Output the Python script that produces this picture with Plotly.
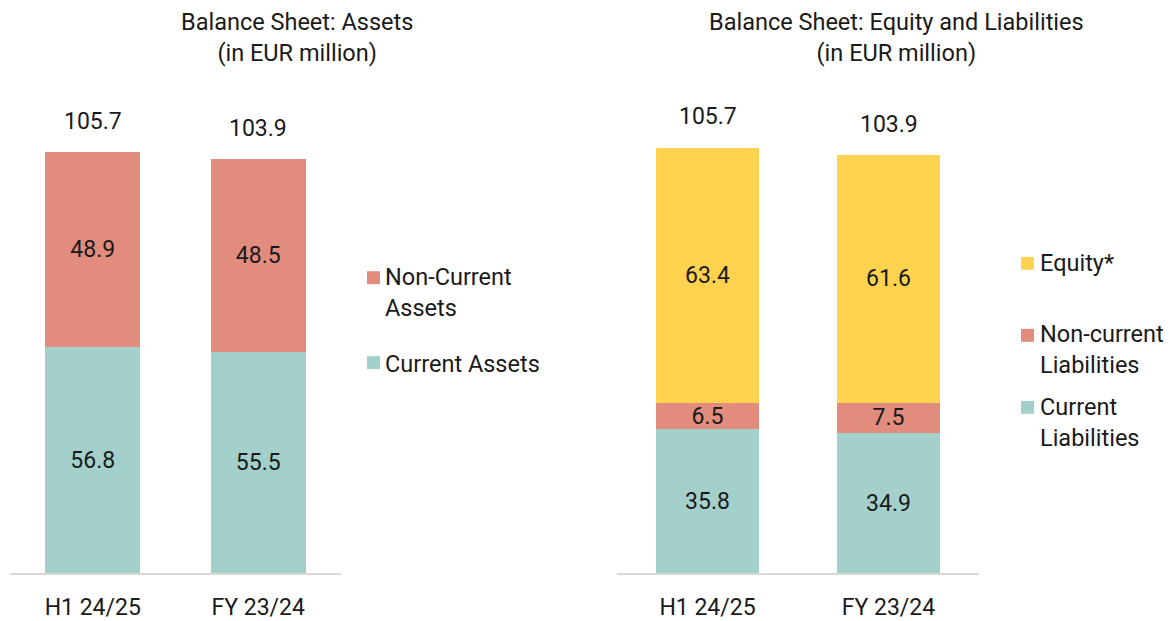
import plotly.graph_objects as go

# ---------------- data ----------------
categories = ["H1 24/25", "FY 23/24"]

current_assets = [56.8, 55.5]
non_current_assets = [48.9, 48.5]
total_assets = [105.7, 103.9]

current_liabilities = [35.8, 34.9]
non_current_liabilities = [6.5, 7.5]
equity = [63.4, 61.6]
total_equity_liabilities = [105.7, 103.9]

asset_labels = ["Non-Current<br>Assets", "Current Assets"]
liability_labels = ["Equity*", "Non-current<br>Liabilities", "Current<br>Liabilities"]

title_assets = "Balance Sheet: Assets<br>(in EUR million)"
title_liabilities = "Balance Sheet: Equity and Liabilities<br>(in EUR million)"

# ---------------- style ----------------
W, H = 1174, 621
TEAL = "#A3D0CB"
SALMON = "#E28C7E"
YELLOW = "#FFD250"
TXT = "#1a1a1a"
FONT = "Roboto"
FS = 23
FS_T = 23.5


def px_x(p):
    return p / W


def px_y(p):
    return 1 - p / H


fig = go.Figure()


def add_bar(vals, color, xa, ya):
    fig.add_trace(go.Bar(
        x=categories, y=vals, marker=dict(color=color, line=dict(width=0)),
        texttemplate="%{y:.1f}", textposition="inside", insidetextanchor="middle",
        textangle=0, textfont=dict(size=FS, color=TXT, family=FONT),
        xaxis=xa, yaxis=ya, showlegend=False, hoverinfo="skip",
    ))


add_bar(current_assets, TEAL, "x", "y")
add_bar(non_current_assets, SALMON, "x", "y")
add_bar(current_liabilities, TEAL, "x2", "y2")
add_bar(non_current_liabilities, SALMON, "x2", "y2")
add_bar(equity, YELLOW, "x2", "y2")

annotations = []
for cat, tot in zip(categories, total_assets):
    annotations.append(dict(x=cat, y=tot, xref="x", yref="y", text=f"{tot:.1f}",
                            showarrow=False, yanchor="middle", yshift=31,
                            font=dict(size=FS, color=TXT, family=FONT)))
for cat, tot in zip(categories, total_equity_liabilities):
    annotations.append(dict(x=cat, y=tot, xref="x2", yref="y2", text=f"{tot:.1f}",
                            showarrow=False, yanchor="middle", yshift=31,
                            font=dict(size=FS, color=TXT, family=FONT)))

# titles
annotations.append(dict(x=px_x(297), y=px_y(38), xref="paper", yref="paper",
                        text=title_assets, showarrow=False, xanchor="center", yanchor="middle",
                        font=dict(size=FS_T, color=TXT, family=FONT)))
annotations.append(dict(x=px_x(896), y=px_y(38), xref="paper", yref="paper",
                        text=title_liabilities, showarrow=False, xanchor="center", yanchor="middle",
                        font=dict(size=FS_T, color=TXT, family=FONT)))

# manual legends
shapes = []


def legend_item(label, color, mx, my, tx, ty_center):
    shapes.append(dict(type="rect", xref="paper", yref="paper",
                       x0=px_x(mx), x1=px_x(mx + 13), y0=px_y(my - 6.5), y1=px_y(my + 6.5),
                       fillcolor=color, line=dict(width=0)))
    annotations.append(dict(x=px_x(tx), y=px_y(ty_center), xref="paper", yref="paper",
                            text=label, showarrow=False, xanchor="left", yanchor="middle",
                            align="left", font=dict(size=FS_T, color=TXT, family=FONT)))


legend_item(asset_labels[0], SALMON, 367, 279.5, 383, 294)
legend_item(asset_labels[1], TEAL, 367, 365, 383, 366)
legend_item(liability_labels[0], YELLOW, 1021, 265, 1038, 265)
legend_item(liability_labels[1], SALMON, 1021, 337.5, 1038, 352)
legend_item(liability_labels[2], TEAL, 1021, 410, 1038, 425)

y_bottom = px_y(577)
y_top = px_y(100)

axis_common = dict(showline=True, linecolor="#D9D9D9", linewidth=2, ticks="",
                   showgrid=False, zeroline=False, type="category",
                   tickfont=dict(size=FS, color=TXT, family=FONT), ticklabelstandoff=12)

fig.update_layout(
    width=W, height=H,
    margin=dict(l=0, r=0, t=0, b=0),
    paper_bgcolor="white", plot_bgcolor="white",
    barmode="stack", bargap=0.427,
    font=dict(family=FONT, color=TXT, size=FS),
    uniformtext=dict(minsize=FS, mode="show"),
    xaxis=dict(domain=[px_x(10), px_x(341)], anchor="y", **axis_common),
    xaxis2=dict(domain=[px_x(617), px_x(979)], anchor="y2", **axis_common),
    yaxis=dict(domain=[y_bottom, y_top], range=[0, 477 / 4.011], visible=False, anchor="x"),
    yaxis2=dict(domain=[y_bottom, y_top], range=[0, 477 / 4.05], visible=False, anchor="x2"),
    annotations=annotations,
    shapes=shapes,
    showlegend=False,
)

fig.write_html(
    "out.html",
    config={"displayModeBar": False, "staticPlot": True},
    post_script="document.body.style.margin='0';document.body.style.overflow='hidden';",
)
